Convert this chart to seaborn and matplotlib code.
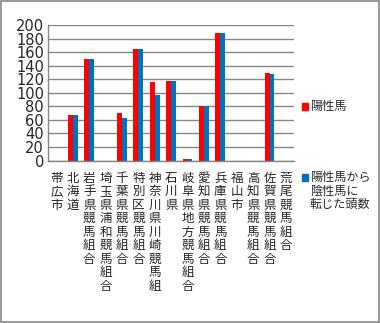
import matplotlib
matplotlib.use("Agg")
import matplotlib.pyplot as plt
from matplotlib.patches import Rectangle
import seaborn as sns
import pandas as pd

categories = ["帯広市", "北海道", "岩手県競馬組合", "埼玉県浦和競馬組合", "千葉県競馬組合",
              "特別区競馬組合", "神奈川県川崎競馬組", "石川県", "岐阜県地方競馬組合",
              "愛知県競馬組合", "兵庫県競馬組合", "福山市", "高知県競馬組合",
              "佐賀県競馬組合", "荒尾競馬組合"]
positive = [0, 67, 150, 0, 70, 165, 116, 118, 2, 80, 189, 0, 0, 129, 0]
converted = [0, 67, 150, 0, 63, 165, 97, 118, 2, 80, 189, 0, 0, 128, 0]
series_names = ["陽性馬", "陽性馬から\n陰性馬に\n転じた頭数"]
colors = ["#FF0000", "#0070C0"]
yticks = [0, 20, 40, 60, 80, 100, 120, 140, 160, 180, 200]

sns.set_theme(style="white")
plt.rcParams['font.family'] = ['Noto Sans CJK JP', 'DejaVu Sans']

df = pd.DataFrame({
    "cat": categories * 2,
    "val": positive + converted,
    "series": [series_names[0]] * len(categories) + [series_names[1]] * len(categories),
})

fig = plt.figure(figsize=(3.8, 3.23), dpi=100)
fig.patch.set_facecolor("white")
ax = fig.add_axes([0.127, 0.503, 0.647, 0.419])

sns.barplot(data=df, x="cat", y="val", hue="series", order=categories,
            hue_order=series_names, palette=colors, width=0.6,
            saturation=1, ax=ax, legend=False, linewidth=0)

ax.set_ylim(0, 200)
ax.set_xlim(-0.5, len(categories) - 0.5)
ax.set_yticks(yticks)
ax.set_yticklabels([str(v) for v in yticks], fontsize=10.5, family=['DejaVu Sans'])
ax.yaxis.grid(True, color="#868686", linewidth=1)
ax.set_axisbelow(True)
ax.tick_params(axis="y", length=0, pad=3)

ax.set_xticks(range(len(categories)))
ax.set_xticklabels(["\n".join(c) for c in categories], fontsize=9, linespacing=1.05,
                   va="top")
ax.set_xticks([i - 0.5 for i in range(len(categories) + 1)], minor=True)
ax.tick_params(axis="x", which="major", length=0, pad=8)
ax.tick_params(axis="x", which="minor", length=4, color="#868686", width=1, direction="out")
ax.set_xlabel("")
ax.set_ylabel("")
for s in ["top", "right"]:
    ax.spines[s].set_visible(False)
for s in ["left", "bottom"]:
    ax.spines[s].set_color("#868686")
    ax.spines[s].set_linewidth(1)

# legend
fig.add_artist(Rectangle((302 / 380, 1 - 110 / 323), 6 / 380, 7 / 323,
                         transform=fig.transFigure, color=colors[0]))
fig.text(310 / 380, 1 - 106.5 / 323, series_names[0], fontsize=8.7, va="center", ha="left")
fig.add_artist(Rectangle((302 / 380, 1 - 181 / 323), 6 / 380, 7 / 323,
                         transform=fig.transFigure, color=colors[1]))
fig.text(310 / 380, 1 - 171 / 323, series_names[1], fontsize=8.7, va="top", ha="left",
         linespacing=1.05)

fig.add_artist(Rectangle((0.002, 0.003), 0.995, 0.994, transform=fig.transFigure,
                         fill=False, edgecolor="#868686", linewidth=1.2))

fig.savefig("out.png", dpi=100)
